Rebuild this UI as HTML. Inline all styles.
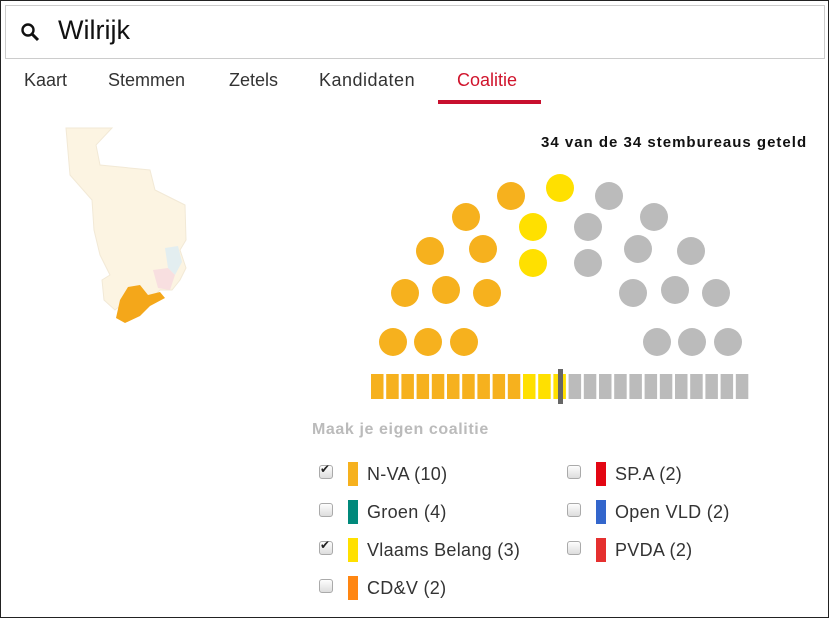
<!DOCTYPE html>
<html><head><meta charset="utf-8"><style>
body{margin:0;width:829px;height:618px;overflow:hidden;background:#fff;font-family:"Liberation Sans",sans-serif;position:relative}
.frame{position:absolute;left:0;top:0;width:827px;height:616px;border:1px solid #222}
.search{position:absolute;left:5px;top:5px;width:818px;height:52px;border:1px solid #ccc}
.t{position:absolute;white-space:nowrap;color:#222}
.tab{font-size:18px;top:70px;color:#333}
.cb{position:absolute;width:12px;height:12px;border:1px solid #aaa;border-radius:3px;background:linear-gradient(#fdfdfd,#ddd)}
.bar{position:absolute;width:10px;height:24px}
.lab{font-size:18px;color:#333;letter-spacing:0.3px}
</style></head><body>
<div class="frame"></div>
<div class="search"></div>
<svg style="position:absolute;left:20px;top:22px" width="22" height="22"><circle cx="8" cy="8" r="5.5" fill="none" stroke="#111" stroke-width="2.4"/><line x1="12" y1="12" x2="18" y2="18" stroke="#111" stroke-width="3"/></svg>
<div class="t" style="left:58px;top:15px;font-size:27px;color:#111">Wilrijk</div>
<div class="t tab" style="left:24px">Kaart</div>
<div class="t tab" style="left:108px">Stemmen</div>
<div class="t tab" style="left:229px">Zetels</div>
<div class="t tab" style="left:319px;letter-spacing:0.5px">Kandidaten</div>
<div class="t tab" style="left:457px;color:#d0142c">Coalitie</div>
<div style="position:absolute;left:438px;top:100px;width:103px;height:4px;background:#c8102e"></div>
<div class="t" style="left:541px;top:134px;font-size:15px;font-weight:bold;color:#111;letter-spacing:1px">34 van de 34 stembureaus geteld</div>
<svg style="position:absolute;left:0;top:0" width="829" height="618">
<path d="M66 128 L112 128 L96 145 L100 165 L150 170 L155 190 L185 205 L186 240 L180 250 L186 268 L180 280 L172 290 L160 290 L150 300 L130 298 L115 310 L104 300 L102 280 L110 275 L100 255 L94 230 L92 200 L70 175 Z" fill="#fcf4e2" stroke="#f2e9d6"/>
<path d="M165 248 L178 246 L182 262 L175 275 L168 268 Z" fill="#e3eef0"/>
<path d="M153 270 L168 268 L175 275 L170 290 L158 288 Z" fill="#f8dfe0"/>
<path d="M128 287 L140 285 L148 295 L160 292 L165 298 L150 306 L140 316 L125 323 L116 318 L120 300 Z" fill="#f4a71a"/>
<g fill="#f6b11e"><circle cx="393" cy="342" r="14"/><circle cx="428" cy="342" r="14"/><circle cx="464" cy="342" r="14"/><circle cx="405" cy="293" r="14"/><circle cx="446" cy="290" r="14"/><circle cx="487" cy="293" r="14"/><circle cx="430" cy="251" r="14"/><circle cx="483" cy="249" r="14"/><circle cx="466" cy="217" r="14"/><circle cx="511" cy="196" r="14"/></g>
<g fill="#ffe000"><circle cx="560" cy="188" r="14"/><circle cx="533" cy="227" r="14"/><circle cx="533" cy="263" r="14"/></g>
<g fill="#bbb"><circle cx="609" cy="196" r="14"/><circle cx="588" cy="227" r="14"/><circle cx="588" cy="263" r="14"/><circle cx="654" cy="217" r="14"/><circle cx="638" cy="249" r="14"/><circle cx="691" cy="251" r="14"/><circle cx="633" cy="293" r="14"/><circle cx="675" cy="290" r="14"/><circle cx="716" cy="293" r="14"/><circle cx="657" cy="342" r="14"/><circle cx="692" cy="342" r="14"/><circle cx="728" cy="342" r="14"/></g>
<g id="bars"></g>
<rect x="558" y="369" width="5" height="35" fill="#666"/>
</svg>
<div class="t" style="left:312px;top:421px;font-size:16px;font-weight:bold;color:#bbb;letter-spacing:0.6px">Maak je eigen coalitie</div>
<div class="cb" style="left:319px;top:465px"></div><div class="t" style="left:320px;top:462px;font-size:12px">✔</div>
<div class="cb" style="left:319px;top:503px"></div>
<div class="cb" style="left:319px;top:541px"></div><div class="t" style="left:320px;top:538px;font-size:12px">✔</div>
<div class="cb" style="left:319px;top:579px"></div>
<div class="cb" style="left:567px;top:465px"></div>
<div class="cb" style="left:567px;top:503px"></div>
<div class="cb" style="left:567px;top:541px"></div>
<div class="bar" style="left:348px;top:462px;background:#f6b11e"></div>
<div class="bar" style="left:348px;top:500px;background:#00897b"></div>
<div class="bar" style="left:348px;top:538px;background:#ffe000"></div>
<div class="bar" style="left:348px;top:576px;background:#ff8612"></div>
<div class="bar" style="left:596px;top:462px;background:#e30613"></div>
<div class="bar" style="left:596px;top:500px;background:#3366cc"></div>
<div class="bar" style="left:596px;top:538px;background:#e5302f"></div>
<div class="t lab" style="left:367px;top:464px">N-VA (10)</div>
<div class="t lab" style="left:367px;top:502px">Groen (4)</div>
<div class="t lab" style="left:367px;top:540px">Vlaams Belang (3)</div>
<div class="t lab" style="left:367px;top:578px">CD&amp;V (2)</div>
<div class="t lab" style="left:615px;top:464px">SP.A (2)</div>
<div class="t lab" style="left:615px;top:502px">Open VLD (2)</div>
<div class="t lab" style="left:615px;top:540px">PVDA (2)</div>
<script>
var g=document.getElementById('bars'),s='';
for(var i=0;i<25;i++){var c=i<10?'#f6b11e':i<13?'#ffe000':'#bbb';s+='<rect x="'+(371+i*15.2)+'" y="374" width="12.5" height="25" fill="'+c+'"/>';}
g.innerHTML=s;
</script>
</body></html>
